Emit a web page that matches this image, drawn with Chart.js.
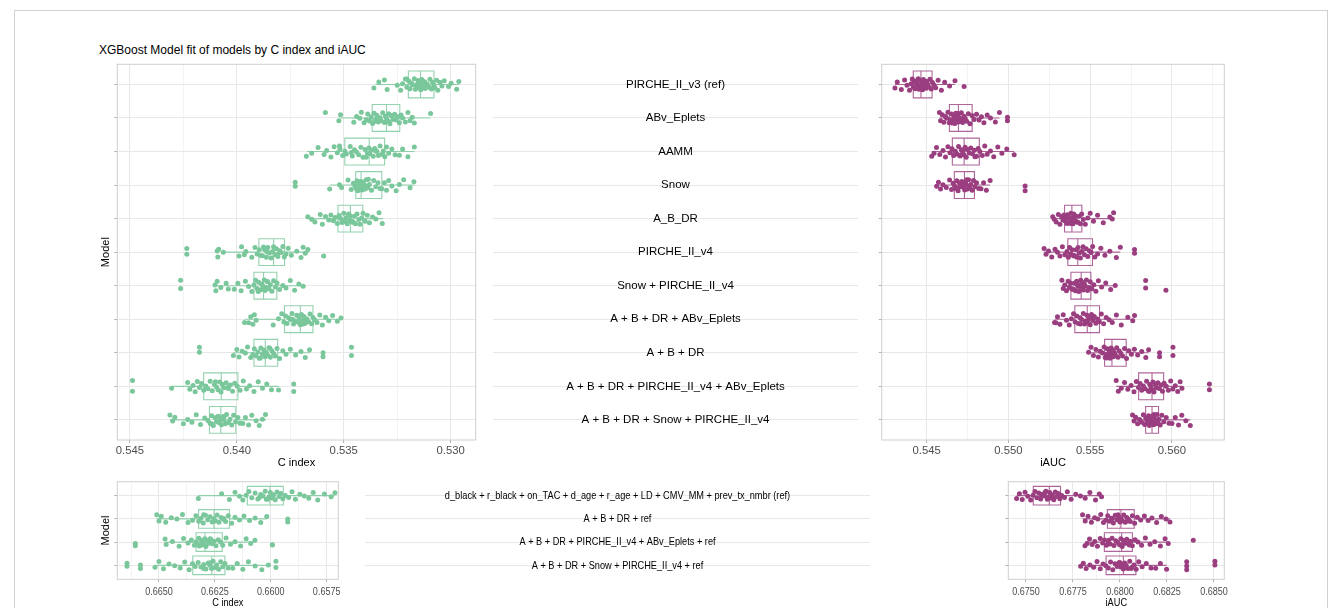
<!DOCTYPE html>
<html>
<head>
<meta charset="utf-8">
<title>XGBoost Model fit of models by C index and iAUC</title>
<script src="https://cdn.jsdelivr.net/npm/chart.js@4.4.1/dist/chart.umd.min.js"></script>
<style>
  html, body { margin: 0; padding: 0; background: #fff; overflow: hidden; width: 1328px; height: 608px; }
  #frame { position: absolute; left: 14px; top: 10px; width: 1314px; height: 640px; border: 1px solid #d0d0d0; box-sizing: border-box; }
  canvas { position: absolute; }
  #title { position: absolute; left: 99px; top: 43px; font: 12px "Liberation Sans", Arial, Helvetica, sans-serif; line-height: 14px; color: #000; white-space: nowrap; }
</style>
</head>
<body>
<div id="frame"></div>
<div id="title">XGBoost Model fit of models by C index and iAUC</div>
<canvas id="cTopLeft"></canvas>
<canvas id="cTopMid"></canvas>
<canvas id="cTopRight"></canvas>
<canvas id="cBotLeft"></canvas>
<canvas id="cBotMid"></canvas>
<canvas id="cBotRight"></canvas>
<script>
// ---------------- categories ----------------
const modelsTop = [
  'PIRCHE_II_v3 (ref)', 'ABv_Eplets', 'AAMM', 'Snow', 'A_B_DR', 'PIRCHE_II_v4',
  'Snow + PIRCHE_II_v4', 'A + B + DR + ABv_Eplets', 'A + B + DR',
  'A + B + DR + PIRCHE_II_v4 + ABv_Eplets', 'A + B + DR + Snow + PIRCHE_II_v4'
];
const modelsBottom = [
  'd_black + r_black + on_TAC + d_age + r_age + LD + CMV_MM + prev_tx_nmbr (ref)',
  'A + B + DR + ref',
  'A + B + DR + PIRCHE_II_v4 + ABv_Eplets + ref',
  'A + B + DR + Snow + PIRCHE_II_v4 + ref'
];

// ---------------- C index, top models (one row per model) ----------------
const cindexTop = [
  [0.53359,0.53336,0.53297,0.53310,0.53250,0.53234,0.53225,0.53212,0.53205,0.53196,0.53190,0.53184,0.53178,0.53170,0.53165,0.53160,0.53152,0.53148,0.53143,0.53140,0.53135,0.53128,0.53122,0.53118,0.53110,0.53104,0.53097,0.53090,0.53085,0.53079,0.53074,0.53066,0.53060,0.53050,0.53041,0.53030,0.53010,0.52998,0.52972,0.52962,0.53180,0.53120,0.53205,0.53100,0.53155],
  [0.53586,0.53523,0.53515,0.53453,0.53440,0.53425,0.53418,0.53405,0.53395,0.53388,0.53380,0.53372,0.53365,0.53358,0.53350,0.53345,0.53338,0.53330,0.53325,0.53318,0.53310,0.53305,0.53300,0.53296,0.53290,0.53284,0.53278,0.53270,0.53262,0.53255,0.53248,0.53240,0.53232,0.53225,0.53212,0.53200,0.53190,0.53180,0.53170,0.53094,0.53335,0.53270,0.53355,0.53290],
  [0.53675,0.53650,0.53620,0.53592,0.53580,0.53560,0.53545,0.53530,0.53518,0.53505,0.53495,0.53488,0.53470,0.53460,0.53450,0.53440,0.53430,0.53420,0.53410,0.53400,0.53390,0.53382,0.53378,0.53370,0.53362,0.53355,0.53345,0.53338,0.53330,0.53322,0.53315,0.53308,0.53300,0.53290,0.53275,0.53260,0.53240,0.53225,0.53200,0.53170,0.53465,0.53395,0.53350,0.53520],
  [0.53727,0.53727,0.53566,0.53520,0.53510,0.53480,0.53465,0.53455,0.53448,0.53442,0.53438,0.53434,0.53430,0.53426,0.53422,0.53420,0.53417,0.53414,0.53410,0.53405,0.53400,0.53395,0.53388,0.53380,0.53370,0.53360,0.53350,0.53340,0.53330,0.53322,0.53310,0.53300,0.53290,0.53275,0.53255,0.53240,0.53220,0.53190,0.53172,0.53435,0.53418,0.53402,0.53385],
  [0.53668,0.53650,0.53635,0.53610,0.53600,0.53585,0.53570,0.53560,0.53548,0.53540,0.53530,0.53522,0.53515,0.53508,0.53500,0.53495,0.53490,0.53484,0.53478,0.53472,0.53468,0.53462,0.53456,0.53450,0.53445,0.53438,0.53430,0.53424,0.53416,0.53410,0.53400,0.53390,0.53380,0.53365,0.53350,0.53335,0.53320,0.53505,0.53475,0.53458],
  [0.54234,0.54234,0.54092,0.54089,0.54085,0.54063,0.53990,0.53978,0.53965,0.53958,0.53930,0.53915,0.53905,0.53895,0.53888,0.53880,0.53870,0.53862,0.53855,0.53848,0.53840,0.53833,0.53828,0.53822,0.53815,0.53808,0.53800,0.53792,0.53785,0.53778,0.53770,0.53760,0.53745,0.53720,0.53700,0.53690,0.53680,0.53668,0.53594,0.53860,0.53810,0.53875],
  [0.54263,0.54263,0.54102,0.54098,0.54092,0.54075,0.54050,0.54040,0.54012,0.53995,0.53980,0.53960,0.53945,0.53930,0.53920,0.53912,0.53905,0.53898,0.53890,0.53884,0.53878,0.53872,0.53868,0.53862,0.53856,0.53850,0.53843,0.53836,0.53828,0.53820,0.53812,0.53800,0.53785,0.53770,0.53750,0.53730,0.53710,0.53690,0.53880,0.53858,0.53900],
  [0.53964,0.53945,0.53935,0.53925,0.53918,0.53910,0.53830,0.53805,0.53790,0.53780,0.53772,0.53765,0.53758,0.53750,0.53742,0.53735,0.53728,0.53720,0.53714,0.53708,0.53703,0.53698,0.53692,0.53686,0.53680,0.53672,0.53665,0.53658,0.53650,0.53644,0.53636,0.53625,0.53612,0.53600,0.53585,0.53570,0.53552,0.53530,0.53513,0.53690,0.53710,0.53740],
  [0.54175,0.54175,0.54016,0.54000,0.53990,0.53975,0.53960,0.53950,0.53935,0.53925,0.53918,0.53910,0.53902,0.53895,0.53888,0.53880,0.53874,0.53868,0.53862,0.53856,0.53850,0.53843,0.53836,0.53828,0.53820,0.53812,0.53800,0.53785,0.53770,0.53750,0.53725,0.53700,0.53680,0.53660,0.53597,0.53597,0.53464,0.53464,0.53870,0.53890,0.53845],
  [0.54488,0.54488,0.54305,0.54230,0.54220,0.54205,0.54195,0.54185,0.54175,0.54165,0.54155,0.54145,0.54135,0.54125,0.54115,0.54105,0.54095,0.54088,0.54080,0.54074,0.54068,0.54060,0.54050,0.54040,0.54030,0.54020,0.54010,0.53998,0.53985,0.53970,0.53955,0.53940,0.53920,0.53900,0.53880,0.53860,0.53838,0.53805,0.53734,0.53734,0.54100,0.54040],
  [0.54313,0.54300,0.54290,0.54250,0.54230,0.54210,0.54190,0.54170,0.54150,0.54135,0.54125,0.54118,0.54110,0.54102,0.54095,0.54088,0.54082,0.54076,0.54072,0.54066,0.54060,0.54054,0.54048,0.54040,0.54032,0.54024,0.54015,0.54006,0.53995,0.53985,0.53972,0.53960,0.53945,0.53930,0.53910,0.53895,0.53880,0.53866,0.54085,0.54060,0.54115]
];
// box summary per row: [whisker min, Q1, median, Q3, whisker max]
const cindexTopBox = [
  [0.52961,0.53078,0.53141,0.53198,0.53352],
  [0.53094,0.53238,0.53300,0.53367,0.53516],
  [0.53169,0.53309,0.53381,0.53495,0.53672],
  [0.53169,0.53322,0.53419,0.53444,0.53566],
  [0.53316,0.53411,0.53469,0.53527,0.53664],
  [0.53664,0.53777,0.53828,0.53897,0.54063],
  [0.53688,0.53813,0.53875,0.53920,0.54102],
  [0.53513,0.53644,0.53703,0.53777,0.53964],
  [0.53656,0.53809,0.53867,0.53920,0.54016],
  [0.53805,0.53995,0.54073,0.54155,0.54305],
  [0.53864,0.54005,0.54075,0.54128,0.54313]
];

// ---------------- iAUC, top models ----------------
const iaucTop = [
  [0.54306,0.54320,0.54345,0.54365,0.54380,0.54395,0.54405,0.54412,0.54418,0.54425,0.54430,0.54436,0.54442,0.54448,0.54452,0.54458,0.54462,0.54466,0.54470,0.54475,0.54480,0.54486,0.54492,0.54498,0.54505,0.54512,0.54520,0.54528,0.54535,0.54545,0.54555,0.54570,0.54590,0.54610,0.54640,0.54673,0.54729,0.54440,0.54470,0.54500],
  [0.54578,0.54585,0.54595,0.54605,0.54615,0.54622,0.54630,0.54638,0.54645,0.54652,0.54660,0.54666,0.54672,0.54678,0.54684,0.54690,0.54695,0.54700,0.54706,0.54712,0.54720,0.54728,0.54736,0.54745,0.54755,0.54765,0.54778,0.54790,0.54805,0.54820,0.54835,0.54850,0.54870,0.54890,0.54920,0.54945,0.54994,0.54994,0.54655,0.54690,0.54715],
  [0.54531,0.54545,0.54560,0.54580,0.54600,0.54615,0.54630,0.54642,0.54655,0.54665,0.54675,0.54685,0.54695,0.54705,0.54712,0.54720,0.54728,0.54735,0.54742,0.54750,0.54760,0.54770,0.54780,0.54792,0.54805,0.54815,0.54825,0.54840,0.54855,0.54870,0.54890,0.54910,0.54935,0.54960,0.54990,0.55035,0.54700,0.54740,0.54795],
  [0.54561,0.54572,0.54585,0.54600,0.54620,0.54640,0.54652,0.54662,0.54670,0.54678,0.54685,0.54692,0.54700,0.54708,0.54715,0.54722,0.54728,0.54733,0.54738,0.54744,0.54750,0.54756,0.54762,0.54770,0.54778,0.54786,0.54795,0.54805,0.54818,0.54832,0.54848,0.54865,0.54888,0.55102,0.55102,0.54710,0.54745,0.54690],
  [0.55271,0.55280,0.55292,0.55305,0.55315,0.55325,0.55333,0.55340,0.55346,0.55352,0.55358,0.55364,0.55370,0.55376,0.55382,0.55386,0.55390,0.55395,0.55400,0.55406,0.55412,0.55418,0.55425,0.55432,0.55440,0.55448,0.55458,0.55470,0.55485,0.55500,0.55520,0.55545,0.55580,0.55620,0.55635,0.55643,0.55380,0.55410,0.55360],
  [0.55218,0.55230,0.55245,0.55265,0.55285,0.55300,0.55315,0.55330,0.55345,0.55358,0.55366,0.55374,0.55382,0.55390,0.55398,0.55406,0.55414,0.55420,0.55426,0.55433,0.55440,0.55448,0.55456,0.55465,0.55475,0.55485,0.55495,0.55505,0.55515,0.55528,0.55545,0.55565,0.55590,0.55620,0.55660,0.55684,0.55771,0.55771,0.55400,0.55450,0.55380],
  [0.55327,0.55335,0.55345,0.55355,0.55365,0.55373,0.55380,0.55388,0.55395,0.55402,0.55410,0.55417,0.55424,0.55430,0.55436,0.55442,0.55447,0.55452,0.55458,0.55464,0.55470,0.55477,0.55484,0.55492,0.55500,0.55510,0.55522,0.55535,0.55550,0.55570,0.55595,0.55625,0.55653,0.55839,0.55839,0.55963,0.55420,0.55460,0.55395],
  [0.55282,0.55290,0.55300,0.55315,0.55335,0.55355,0.55372,0.55385,0.55398,0.55408,0.55418,0.55428,0.55438,0.55448,0.55458,0.55466,0.55474,0.55480,0.55486,0.55492,0.55500,0.55508,0.55516,0.55525,0.55535,0.55545,0.55556,0.55568,0.55582,0.55598,0.55615,0.55635,0.55660,0.55690,0.55730,0.55760,0.55771,0.55470,0.55500,0.55440],
  [0.55490,0.55505,0.55520,0.55535,0.55550,0.55562,0.55575,0.55585,0.55592,0.55598,0.55604,0.55610,0.55616,0.55622,0.55628,0.55632,0.55637,0.55642,0.55648,0.55655,0.55662,0.55670,0.55678,0.55688,0.55698,0.55710,0.55722,0.55736,0.55752,0.55770,0.55790,0.55815,0.55840,0.55857,0.55924,0.55924,0.56006,0.56006,0.55640,0.55600],
  [0.55659,0.55672,0.55690,0.55710,0.55730,0.55750,0.55768,0.55782,0.55795,0.55805,0.55815,0.55825,0.55835,0.55845,0.55855,0.55864,0.55872,0.55878,0.55884,0.55890,0.55897,0.55905,0.55914,0.55923,0.55932,0.55942,0.55952,0.55965,0.55978,0.55992,0.56005,0.56020,0.56035,0.56050,0.56061,0.56229,0.56229,0.55880,0.55900,0.55860],
  [0.55759,0.55768,0.55778,0.55790,0.55802,0.55815,0.55825,0.55833,0.55840,0.55846,0.55852,0.55857,0.55862,0.55867,0.55872,0.55876,0.55880,0.55884,0.55888,0.55892,0.55897,0.55902,0.55908,0.55914,0.55920,0.55928,0.55938,0.55950,0.55965,0.55982,0.56000,0.56020,0.56040,0.56060,0.56085,0.56112,0.55875,0.55890,0.55860,0.55880]
];
const iaucTopBox = [
  [0.54306,0.54418,0.54465,0.54533,0.54673],
  [0.54578,0.54639,0.54694,0.54778,0.54945],
  [0.54531,0.54657,0.54729,0.54822,0.55035],
  [0.54561,0.54669,0.54731,0.54792,0.54888],
  [0.55271,0.55343,0.55388,0.55449,0.55643],
  [0.55218,0.55363,0.55424,0.55514,0.55684],
  [0.55327,0.55382,0.55445,0.55504,0.55653],
  [0.55282,0.55406,0.55482,0.55557,0.55771],
  [0.55490,0.55588,0.55633,0.55720,0.55857],
  [0.55659,0.55796,0.55878,0.55949,0.56061],
  [0.55759,0.55839,0.55878,0.55918,0.56112]
];

// ---------------- C index, models with clinical covariates ----------------
const cindexBottom = [
  [0.66324,0.66220,0.66185,0.66160,0.66140,0.66125,0.66110,0.66098,0.66085,0.66070,0.66058,0.66045,0.66035,0.66025,0.66015,0.66008,0.66002,0.65995,0.65988,0.65980,0.65972,0.65963,0.65955,0.65946,0.65935,0.65920,0.65905,0.65890,0.65870,0.65850,0.65830,0.65810,0.65790,0.65760,0.65730,0.65713,0.66050,0.65990,0.66020],
  [0.66510,0.66500,0.66490,0.66470,0.66445,0.66420,0.66395,0.66370,0.66350,0.66335,0.66322,0.66312,0.66302,0.66292,0.66282,0.66272,0.66262,0.66255,0.66248,0.66240,0.66232,0.66222,0.66212,0.66202,0.66190,0.66175,0.66160,0.66140,0.66120,0.66095,0.66070,0.66045,0.66018,0.65924,0.65924,0.66300,0.66250,0.66210],
  [0.66606,0.66606,0.66473,0.66468,0.66440,0.66410,0.66390,0.66370,0.66355,0.66342,0.66334,0.66328,0.66322,0.66316,0.66310,0.66305,0.66300,0.66295,0.66290,0.66285,0.66278,0.66270,0.66262,0.66254,0.66245,0.66235,0.66225,0.66215,0.66200,0.66180,0.66160,0.66135,0.66110,0.66090,0.66071,0.65993,0.65993,0.66300,0.66320,0.66270],
  [0.66643,0.66643,0.66583,0.66583,0.66518,0.66500,0.66480,0.66455,0.66430,0.66405,0.66385,0.66365,0.66350,0.66338,0.66325,0.66312,0.66300,0.66290,0.66280,0.66272,0.66265,0.66258,0.66250,0.66242,0.66233,0.66224,0.66215,0.66205,0.66190,0.66170,0.66150,0.66125,0.66100,0.66070,0.66040,0.66011,0.65977,0.65977,0.66270,0.66300]
];
const cindexBottomBox = [
  [0.65713,0.65944,0.66004,0.66105,0.66324],
  [0.66018,0.66185,0.66254,0.66323,0.66510],
  [0.66071,0.66217,0.66294,0.66334,0.66473],
  [0.66011,0.66205,0.66264,0.66349,0.66518]
];

// ---------------- iAUC, models with clinical covariates ----------------
const iaucBottom = [
  [0.67450,0.67465,0.67480,0.67495,0.67510,0.67525,0.67538,0.67548,0.67558,0.67568,0.67578,0.67588,0.67598,0.67606,0.67614,0.67620,0.67626,0.67632,0.67640,0.67648,0.67656,0.67664,0.67672,0.67680,0.67690,0.67705,0.67720,0.67740,0.67765,0.67790,0.67815,0.67840,0.67870,0.67890,0.67902,0.67600,0.67640,0.67580],
  [0.67801,0.67815,0.67830,0.67848,0.67865,0.67882,0.67898,0.67912,0.67925,0.67935,0.67945,0.67955,0.67965,0.67975,0.67985,0.67993,0.68000,0.68006,0.68012,0.68020,0.68028,0.68036,0.68045,0.68055,0.68066,0.68078,0.68092,0.68110,0.68130,0.68150,0.68170,0.68195,0.68220,0.68245,0.68266,0.67990,0.68040,0.67960],
  [0.67814,0.67825,0.67838,0.67852,0.67866,0.67880,0.67895,0.67908,0.67918,0.67928,0.67938,0.67948,0.67958,0.67968,0.67978,0.67988,0.67998,0.68005,0.68012,0.68020,0.68028,0.68036,0.68045,0.68055,0.68066,0.68080,0.68096,0.68115,0.68135,0.68160,0.68185,0.68215,0.68240,0.68257,0.68390,0.68010,0.68050,0.67940],
  [0.67791,0.67805,0.67820,0.67840,0.67860,0.67878,0.67895,0.67910,0.67925,0.67938,0.67950,0.67962,0.67974,0.67985,0.67996,0.68005,0.68012,0.68018,0.68025,0.68033,0.68042,0.68052,0.68062,0.68074,0.68086,0.68100,0.68118,0.68140,0.68165,0.68190,0.68215,0.68248,0.68355,0.68355,0.68355,0.68505,0.68505,0.68020,0.68000,0.68060]
];
const iaucBottomBox = [
  [0.67450,0.67539,0.67624,0.67684,0.67902],
  [0.67801,0.67933,0.68005,0.68076,0.68266],
  [0.67814,0.67917,0.68009,0.68066,0.68257],
  [0.67791,0.67926,0.68018,0.68085,0.68248]
];

// ---------------- axis breaks ----------------
const cindexTopTicks = [0.545, 0.540, 0.535, 0.530];
const cindexTopMinor = [0.5425, 0.5375, 0.5325];
const iaucTopTicks = [0.545, 0.550, 0.555, 0.560];
const iaucTopMinor = [0.5475, 0.5525, 0.5575, 0.5625];
const cindexBottomTicks = [0.6650, 0.6625, 0.6600, 0.6575];
const cindexBottomMinor = [0.66625, 0.66375, 0.66125, 0.65875];
const iaucBottomTicks = [0.6750, 0.6775, 0.6800, 0.6825, 0.6850];
const iaucBottomMinor = [0.67625, 0.67875, 0.68125, 0.68375];

// ---------------- styling ----------------
const FONT = '"Liberation Sans", Arial, Helvetica, sans-serif';
const GREEN = '#79C79B';
const GREEN_BOX = 'rgba(121,199,155,0.8)';
const PURPLE = '#9A3E80';
const PURPLE_BOX = 'rgba(154,62,128,0.8)';
const GRID_MAJOR = '#E8E8E8';
const GRID_MINOR = '#F3F3F3';
const PANEL_BORDER = '#CFCFCF';
const TICK_MARK = '#B3B3B3';
const NARROW = 0.8;   // horizontal text width factor for the lower row

// fixed vertical scatter offsets (fraction of a row) for the jittered points
const JITTER = [0.12,-0.08,0.17,-0.15,0.03,0.19,-0.02,-0.18,0.09,-0.11,0.14,-0.05,0.01,-0.19,0.16,0.06,-0.13,0.10,-0.03,0.18,-0.16,0.04,-0.09,0.13,-0.01,0.08,-0.17,0.15,-0.06,0.02,0.11,-0.14,0.19,-0.07,0.05,-0.12,0.07,-0.04,0.16,-0.10,0.00,0.13,-0.18,0.09,-0.02,0.17,-0.15,0.06,-0.08,0.11];

function pointsFor(values, spread) {
  const pts = [];
  values.forEach((row, i) => {
    row.forEach((v, k) => {
      pts.push({ x: v, y: i + JITTER[(k + i * 7) % JITTER.length] * spread });
    });
  });
  return pts;
}

// box-and-whisker outlines drawn under the points
const boxPlugin = {
  id: 'boxes',
  beforeDatasetsDraw(chart, args, opts) {
    const { ctx } = chart;
    const xs = chart.scales.x, ys = chart.scales.y;
    const px = v => xs.getPixelForValue(v);
    ctx.save();
    ctx.strokeStyle = opts.color;
    ctx.lineWidth = opts.lineWidth || 1.1;
    opts.stats.forEach((s, i) => {
      const [lo, q1, med, q3, hi] = s;
      const yc = ys.getPixelForValue(i);
      const yt = ys.getPixelForValue(i - 0.4);
      const yb = ys.getPixelForValue(i + 0.4);
      const x1 = px(q1), x3 = px(q3), xm = px(med);
      ctx.beginPath();
      ctx.moveTo(px(lo), yc); ctx.lineTo(x1, yc);
      ctx.moveTo(x3, yc); ctx.lineTo(px(hi), yc);
      ctx.moveTo(xm, yt); ctx.lineTo(xm, yb);
      ctx.rect(Math.min(x1, x3), Math.min(yt, yb), Math.abs(x3 - x1), Math.abs(yb - yt));
      ctx.stroke();
    });
    ctx.restore();
  }
};

// panel outline
const framePlugin = {
  id: 'frame',
  afterDraw(chart) {
    const { ctx, chartArea: a } = chart;
    ctx.save();
    ctx.strokeStyle = PANEL_BORDER;
    ctx.lineWidth = 1;
    ctx.strokeRect(a.left, a.top, a.right - a.left, a.bottom - a.top);
    ctx.restore();
  }
};

// model names centred on each row of a text strip
const rowLabelPlugin = {
  id: 'rowLabels',
  afterDraw(chart, args, opts) {
    const { ctx, chartArea: a } = chart;
    const ys = chart.scales.y;
    ctx.save();
    ctx.fillStyle = '#000';
    ctx.font = opts.size + 'px ' + FONT;
    ctx.textAlign = 'center';
    ctx.textBaseline = 'middle';
    opts.labels.forEach((t, i) => ctx.fillText(t, (a.left + a.right) / 2, ys.getPixelForValue(i)));
    ctx.restore();
  }
};

// narrow lettering: horizontal text is compressed around its anchor point
const narrowTextPlugin = {
  id: 'narrowText',
  beforeDraw(chart, args, opts) {
    const ctx = chart.ctx;
    if (ctx.__plainFillText) return;
    const plain = ctx.fillText;
    ctx.__plainFillText = plain;
    ctx.fillText = function (text, x, y, maxWidth) {
      const m = this.getTransform();
      if (Math.abs(m.b) > 1e-6 || Math.abs(m.c) > 1e-6) {
        return plain.call(this, text, x, y);
      }
      this.save();
      this.translate(x, y);
      this.scale(opts.factor, 1);
      plain.call(this, text, 0, 0);
      this.restore();
    };
  }
};

function setCanvas(id, x, y, w, h) {
  const c = document.getElementById(id);
  c.width = w; c.height = h;
  c.style.left = x + 'px'; c.style.top = y + 'px';
  c.style.width = w + 'px'; c.style.height = h + 'px';
  return c;
}

function rowAxis(n, width, title) {
  return {
    type: 'linear', min: -0.6, max: n - 0.4, reverse: true,
    afterBuildTicks: s => { s.ticks = Array.from({ length: n }, (_, i) => ({ value: i })); },
    ticks: { display: false },
    grid: { color: GRID_MAJOR, lineWidth: 1, drawTicks: width > 0, tickLength: 3, tickColor: TICK_MARK },
    border: { display: false },
    title: title ? { display: true, text: title.text, color: '#000', font: { family: FONT, size: title.size }, padding: { top: title.pad, bottom: 0 } } : { display: false },
    afterFit: s => { s.width = width; }
  };
}

function panel(o) {
  const c = setCanvas(o.id, o.x, o.y, o.w, o.h);
  const isMajor = v => o.major.some(m => Math.abs(m - v) < 1e-9);
  const breaks = [...o.major, ...o.minor]
    .filter(v => v >= o.min && v <= o.max)
    .sort((a, b) => a - b);
  const extra = o.narrow ? [narrowTextPlugin] : [];
  return new Chart(c, {
    type: 'scatter',
    data: {
      datasets: [{
        data: pointsFor(o.values, o.spread),
        pointRadius: o.radius,
        pointHoverRadius: o.radius,
        pointBackgroundColor: o.color,
        pointBorderWidth: 0
      }]
    },
    options: {
      responsive: false, animation: false, events: [], devicePixelRatio: 1,
      layout: { padding: o.pad },
      plugins: {
        legend: { display: false },
        tooltip: { enabled: false },
        boxes: { stats: o.box, color: o.boxColor, lineWidth: 1.1 },
        narrowText: { factor: o.narrow || 1 }
      },
      scales: {
        x: {
          type: 'linear', min: o.min, max: o.max, reverse: o.reverse,
          afterBuildTicks: s => { s.ticks = breaks.map(v => ({ value: v })); },
          ticks: {
            autoSkip: false, maxRotation: 0, padding: o.tickPad,
            color: '#4D4D4D', font: { family: FONT, size: 11.3 },
            callback: v => isMajor(v) ? v.toFixed(o.digits) : ''
          },
          grid: {
            lineWidth: 1, tickLength: 3,
            color: c => (c.tick && isMajor(c.tick.value)) ? GRID_MAJOR : GRID_MINOR,
            tickColor: c => (c.tick && isMajor(c.tick.value)) ? TICK_MARK : 'rgba(0,0,0,0)'
          },
          border: { display: false },
          title: { display: true, text: o.xTitle, color: '#000', font: { family: FONT, size: o.titleSize }, padding: { top: 0, bottom: o.titlePad } },
          afterFit: s => { s.height = o.xAxisH; }
        },
        y: rowAxis(o.values.length, o.yAxisW, o.yTitle)
      }
    },
    plugins: [...extra, boxPlugin, framePlugin]
  });
}

function labelStrip(o) {
  const c = setCanvas(o.id, o.x, o.y, o.w, o.h);
  const extra = o.narrow ? [narrowTextPlugin] : [];
  return new Chart(c, {
    type: 'scatter',
    data: { datasets: [] },
    options: {
      responsive: false, animation: false, events: [], devicePixelRatio: 1,
      layout: { padding: o.pad },
      plugins: {
        legend: { display: false }, tooltip: { enabled: false },
        rowLabels: { labels: o.labels, size: o.size },
        narrowText: { factor: o.narrow || 1 }
      },
      scales: {
        x: { type: 'linear', display: false, min: 0, max: 1 },
        y: rowAxis(o.labels.length, 0, null)
      }
    },
    plugins: [...extra, rowLabelPlugin]
  });
}

// ---------------- upper row ----------------
panel({
  id: 'cTopLeft', x: 90, y: 58, w: 390, h: 416,
  pad: { left: 0, top: 6.3, right: 4.3, bottom: 0 },
  yAxisW: 27.3, xAxisH: 34, tickPad: 1, titlePad: 4.4, titleSize: 11,
  values: cindexTop, box: cindexTopBox, color: GREEN, boxColor: GREEN_BOX,
  min: 0.52883, max: 0.54559, reverse: true,
  major: cindexTopTicks, minor: cindexTopMinor, digits: 3,
  xTitle: 'C index', yTitle: { text: 'Model', size: 11, pad: 9.1 },
  radius: 2.5, spread: 0.9
});

labelStrip({
  id: 'cTopMid', x: 480, y: 58, w: 390, h: 416,
  pad: { left: 13, top: 6.3, right: 12, bottom: 34 },
  labels: modelsTop, size: 11.5
});

panel({
  id: 'cTopRight', x: 870, y: 58, w: 370, h: 416,
  pad: { left: 0, top: 6.3, right: 15.7, bottom: 0 },
  yAxisW: 11.7, xAxisH: 34, tickPad: 1, titlePad: 4.4, titleSize: 11,
  values: iaucTop, box: iaucTopBox, color: PURPLE, boxColor: PURPLE_BOX,
  min: 0.54225, max: 0.5632, reverse: false,
  major: iaucTopTicks, minor: iaucTopMinor, digits: 3,
  xTitle: 'iAUC', yTitle: null,
  radius: 2.5, spread: 0.9
});

// ---------------- lower row ----------------
panel({
  id: 'cBotLeft', x: 90, y: 476, w: 262, h: 136,
  pad: { left: 0, top: 5.7, right: 13.7, bottom: 0 },
  yAxisW: 27.3, xAxisH: 32.7, tickPad: 2.6, titlePad: 2.6, titleSize: 11.5,
  values: cindexBottom, box: cindexBottomBox, color: GREEN, boxColor: GREEN_BOX,
  min: 0.65698, max: 0.666865, reverse: true,
  major: cindexBottomTicks, minor: cindexBottomMinor, digits: 4,
  xTitle: 'C index', yTitle: { text: 'Model', size: 11, pad: 9.1 },
  radius: 2.5, spread: 1.0, narrow: NARROW
});

labelStrip({
  id: 'cBotMid', x: 360, y: 476, w: 520, h: 136,
  pad: { left: 5, top: 5.7, right: 10, bottom: 32.7 },
  labels: modelsBottom, size: 11.5, narrow: NARROW
});

panel({
  id: 'cBotRight', x: 996, y: 476, w: 244, h: 136,
  pad: { left: 0, top: 5.7, right: 15.7, bottom: 0 },
  yAxisW: 12.3, xAxisH: 32.7, tickPad: 2.6, titlePad: 2.6, titleSize: 11.5,
  values: iaucBottom, box: iaucBottomBox, color: PURPLE, boxColor: PURPLE_BOX,
  min: 0.67406, max: 0.68555, reverse: false,
  major: iaucBottomTicks, minor: iaucBottomMinor, digits: 4,
  xTitle: 'iAUC', yTitle: null,
  radius: 2.5, spread: 1.0, narrow: NARROW
});
</script>
</body>
</html>
